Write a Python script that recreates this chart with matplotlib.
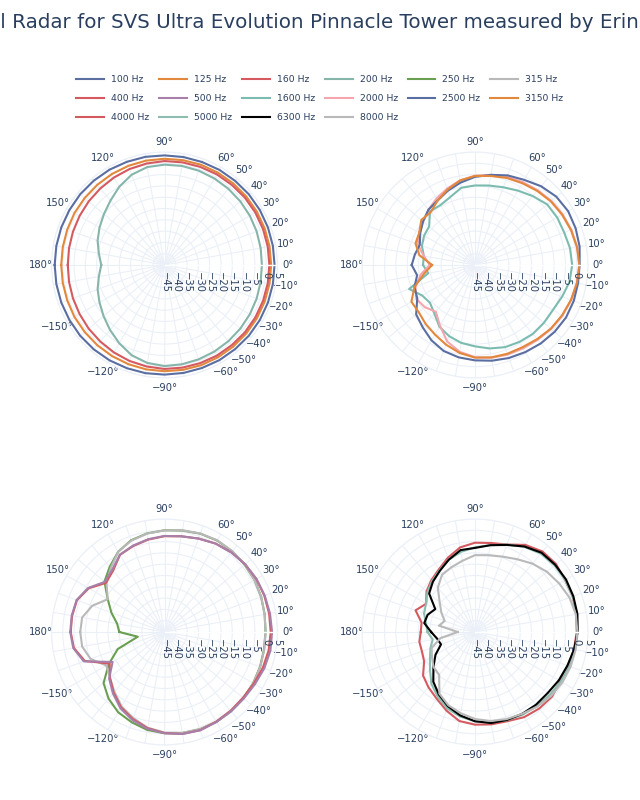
import numpy as np
import matplotlib.pyplot as plt
from matplotlib.transforms import ScaledTranslation

plt.rcParams['font.family'] = ['DejaVu Sans']

TXT = '#2a3f5f'
GRID = '#ebf0f8'

angles = list(range(-180, 181, 10))

# subplot 1 (top left)
hz_100 = [3.6, 3.6, 3.6, 3.6, 3.7, 3.7, 3.7, 3.6, 3.6, 3.5, 3.5, 3.5, 3.6, 3.6, 3.7, 3.7, 3.7, 3.7, 3.7,
          3.7, 3.7, 3.7, 3.7, 3.6, 3.6, 3.5, 3.5, 3.5, 3.6, 3.6, 3.7, 3.7, 3.7, 3.6, 3.6, 3.6, 3.6]
hz_125 = [0.7, 0.7, 0.8, 1.0, 1.1, 1.3, 1.5, 1.7, 1.9, 2.0, 2.1, 2.2, 2.2, 2.2, 2.2, 2.2, 2.2, 2.2, 2.2,
          2.2, 2.2, 2.2, 2.2, 2.2, 2.2, 2.2, 2.1, 2.0, 1.9, 1.7, 1.5, 1.3, 1.1, 1.0, 0.8, 0.7, 0.7]
hz_160 = [-2.2, -2.1, -1.9, -1.6, -1.2, -0.8, -0.3, 0.2, 0.6, 1.0, 1.1, 1.2, 1.3, 1.3, 1.4, 1.4, 1.4, 1.4, 1.4,
          1.4, 1.4, 1.4, 1.4, 1.3, 1.3, 1.2, 1.1, 1.0, 0.6, 0.2, -0.3, -0.8, -1.2, -1.6, -1.9, -2.1, -2.2]
hz_200 = [-17.0, -15.5, -13.5, -11.8, -9.8, -7.5, -5.0, -2.5, -1.0, -0.3, -0.4, -0.6, -0.8, -1.0, -1.2, -1.4, -1.6, -1.8, -1.9,
          -1.8, -1.6, -1.4, -1.2, -1.0, -0.8, -0.6, -0.5, -0.6, -1.0, -2.5, -5.0, -7.8, -10.0, -11.8, -13.5, -15.5, -17.0]

# subplot 3 (bottom left)
hz_250 = [-25, -33, -23, -16.5, -9.8, -6.5, -4, -2.5, -1, -0.2, 0.4, 0.8, 0.9, 0.8, 0.6, 0.3, 0, -0.3, -0.3,
          0, 0.5, 1, 1.3, 1.6, 1.7, 1.3, 0.6, 0, -0.7, -1.8, -4, -7.3, -10.3, -16, -20, -23.7, -25]
hz_315 = [-7.7, -8, -10.2, -15.3, -13.5, -10.5, -7, -4.5, -2, -0.5, 0.3, 0.8, 0.9, 0.8, 0.6, 0.4, 0.1, -0.2, -0.3,
          0, 0.5, 1, 1.4, 1.7, 1.8, 1.4, 0.7, 0, -0.8, -2, -4, -8, -11.5, -16, -11, -8, -7.7]
hz_400 = [-3.5, -4.3, -7.5, -17, -13.5, -10, -6.5, -4, -1.8, -0.3, 0.8, 1.2, 0.8, 0.5, 0.3, 0.6, 1.3, 1.8, 2,
          2, 2, 1.9, 1.6, 1, 0.2, -1, -2, -2.6, -3.5, -4.5, -5.6, -9.6, -11.2, -6.3, -3.8, -3.5, -3.5]
hz_500 = [-3.3, -4, -7, -18.5, -13, -9.5, -6, -3.5, -1.5, -0.2, 0.8, 1.3, 1.0, 0.8, 0.8, 1.2, 2.0, 2.6, 2.6,
          2.4, 2.2, 2.0, 1.6, 1.0, 0.2, -1, -2, -2.5, -3.3, -4.3, -5.5, -9, -10.5, -6, -3.6, -3.3, -3.3]

# subplot 2 (top right)
hz_1600 = [-22, -24, -14, -18, -19, -17, -13.5, -11.5, -10, -9, -7.5, -6.3, -5.7, -5.2, -5.2, -5.2, -4, -2.5, -2,
           -2.3, -3, -3, -3.3, -5.2, -7, -8.4, -9.3, -9.8, -10.3, -13, -14.4, -14, -18.5, -19, -20, -22, -22]
hz_2000 = [-25, -20.6, -17, -15, -16, -18, -14, -9, -6, -4.2, -3.3, -2.8, -2.4, -1.8, -1, -0.3, 0.3, 0.8, 1.1,
           0.9, 0.4, -0.2, -0.9, -1.8, -2.7, -3.5, -4.5, -5.5, -7, -9, -11, -13, -15, -16.5, -18, -22, -25]
hz_2500 = [-17, -19, -16.5, -15.5, -11, -9, -6.5, -4.5, -3.5, -2.8, -2, -1.2, -0.5, 0.3, 1, 1.5, 1.5, 1.3, 1.3,
           2, 2.4, 2.6, 2, 0.5, -1.5, -2.8, -4.5, -6, -8, -10, -12, -13, -15, -17, -19, -18, -17]
hz_3150 = [-26, -22, -16.5, -12.5, -12.5, -11, -9.5, -7.5, -5.5, -4, -3.5, -3.2, -3, -2.2, -1.2, -0.5, 0.2, 0.8, 1.2,
           0.8, 0.2, -0.5, -1.2, -2.2, -3.2, -4, -5, -5.6, -7, -9.5, -12, -14.5, -14, -16.5, -17, -20, -26]

# subplot 4 (bottom right)
hz_4000 = [-21, -20, -20, -19, -15, -13, -11, -8, -5, -4, -3.5, -3, -1.5, -0.8, -0.5, -1.5, -1.2, -0.5, 0,
           0.5, 1, 1, 1.8, 1.5, -0.5, -3.8, -5, -5.5, -7, -10, -13, -15, -17, -20, -17, -21, -21]
hz_5000 = [-24, -26, -24, -22, -19, -15, -12, -9, -7, -5.5, -4.5, -3.5, -2.8, -2.2, -1.8, -1.2, -0.7, 0, 0.5,
           0.8, 1, 1.1, 0.9, 0.3, -1.5, -3.8, -6, -7.5, -9, -11, -13.5, -15.5, -17.5, -20, -21, -23, -24]
hz_6300 = [-25.6, -28, -29, -24.8, -21, -16.3, -13, -10, -7.5, -5.5, -4.1, -3.6, -3.2, -3, -3, -2.2, -1.5, -0.5, 0.4,
           1, 1.3, 1.5, 1.3, 0.8, -1.3, -4, -6, -7.8, -8.2, -11, -13.8, -16, -18.5, -24.7, -22.7, -22.2, -25.6]
hz_8000 = [-37.4, -29.5, -24.6, -23, -21, -20.3, -13.5, -10.5, -8.5, -6.5, -5, -4, -3.2, -2, -1, -0.4, 0, 0.2, 0.3,
           0.3, -0.5, -2, -3.5, -5.5, -7.8, -9.5, -10.5, -11, -13, -14.5, -15.8, -19.4, -24.6, -27.8, -30.7, -28.8, -37.4]

panels = [
    [('100 Hz', hz_100), ('125 Hz', hz_125), ('160 Hz', hz_160), ('200 Hz', hz_200)],
    [('1600 Hz', hz_1600), ('2000 Hz', hz_2000), ('2500 Hz', hz_2500), ('3150 Hz', hz_3150)],
    [('250 Hz', hz_250), ('315 Hz', hz_315), ('400 Hz', hz_400), ('500 Hz', hz_500)],
    [('4000 Hz', hz_4000), ('5000 Hz', hz_5000), ('6300 Hz', hz_6300), ('8000 Hz', hz_8000)],
]
colors = {
    '100 Hz': '#5b6ea2', '125 Hz': '#e2883c', '160 Hz': '#d45a60', '200 Hz': '#86b5aa',
    '250 Hz': '#6a9e50', '315 Hz': '#b9b9b9', '400 Hz': '#d45a60', '500 Hz': '#a680a9',
    '1600 Hz': '#7cbcb0', '2000 Hz': '#f4a5ad', '2500 Hz': '#5b6ea2', '3150 Hz': '#e2883c',
    '4000 Hz': '#d45a60', '5000 Hz': '#8dbcb0', '6300 Hz': '#000000', '8000 Hz': '#b9b9b9',
}
legend_order = ['100 Hz', '125 Hz', '160 Hz', '200 Hz', '250 Hz', '315 Hz',
                '400 Hz', '500 Hz', '1600 Hz', '2000 Hz', '2500 Hz', '3150 Hz',
                '4000 Hz', '5000 Hz', '6300 Hz', '8000 Hz']

rticks = list(range(-45, 6, 5))
theta_labels = {0: '0°', 10: '10°', 20: '20°', 30: '30°', 40: '40°', 50: '50°', 60: '60°',
                90: '90°', 120: '120°', 150: '150°', 180: '180°', 210: '−150°', 240: '−120°',
                270: '−90°', 300: '−60°', 310: '−50°', 320: '−40°', 330: '−30°', 340: '−20°', 350: '−10°'}

fig = plt.figure(figsize=(6.4, 8), dpi=100)

R = 113
centers = [(164.5, 265), (475, 265), (164.5, 632), (475, 632)]
handles = {}
for (cx, cy), traces in zip(centers, panels):
    ax = fig.add_axes([(cx - R) / 640, 1 - (cy + R) / 800, 2 * R / 640, 2 * R / 800], projection='polar')
    ax.set_ylim(-45, 5)
    ax.set_yticks(rticks)
    ax.set_yticklabels([])
    th = np.arange(0, 360, 10)
    ax.set_xticks(np.deg2rad(th))
    ax.set_xticklabels([theta_labels.get(int(a), '') for a in th], fontsize=7.2, color=TXT)
    ax.tick_params(axis='x', length=0, pad=0.5)
    ax.grid(True, color=GRID, lw=0.8)
    ax.spines['polar'].set_color(GRID)
    ax.spines['polar'].set_linewidth(0.8)
    for name, vals in traces:
        ln, = ax.plot(np.deg2rad(angles), vals, color=colors[name], lw=1.5, label=name, zorder=3)
        handles[name] = ln
    ax.plot([0, 0], [-45, 5], color='white', lw=1, zorder=4)
    off = ax.transData + ScaledTranslation(0, -5 / 72, fig.dpi_scale_trans)
    for v in rticks:
        lab = str(v).replace('-', '−')
        ax.text(0, v, lab, rotation=-90, ha='center', va='top', fontsize=7.2, color=TXT,
                transform=off, zorder=5)

# legend: matplotlib fills columns first, reorder to get row-major layout
n = len(legend_order)
ncol = 6
nrow = 3
order = []
for c in range(ncol):
    for r in range(nrow):
        i = r * ncol + c
        if i < n:
            order.append(legend_order[i])
fig.legend([handles[k] for k in order], order, ncol=ncol, loc='upper left',
           bbox_to_anchor=(76 / 640, 1 - 75.5 / 800), frameon=False, fontsize=6.7,
           handlelength=3.0, handletextpad=0.75, columnspacing=1.05, labelspacing=1.05,
           borderpad=0, borderaxespad=0, labelcolor=TXT)

title = 'Horizontal Radar for SVS Ultra Evolution Pinnacle Tower measured by ErinsAudioCorner'
t = fig.text(0, 1 - 22 / 800, title, fontsize=14.3, color=TXT, ha='left', va='center')
rend = fig.canvas.get_renderer()
p = fig.text(0, 0, 'Horizonta', fontsize=14.3)
w = p.get_window_extent(rend).width
p.remove()
t.set_x(-w / fig.bbox.width)

fig.savefig('out.png', dpi=100, facecolor='white')
